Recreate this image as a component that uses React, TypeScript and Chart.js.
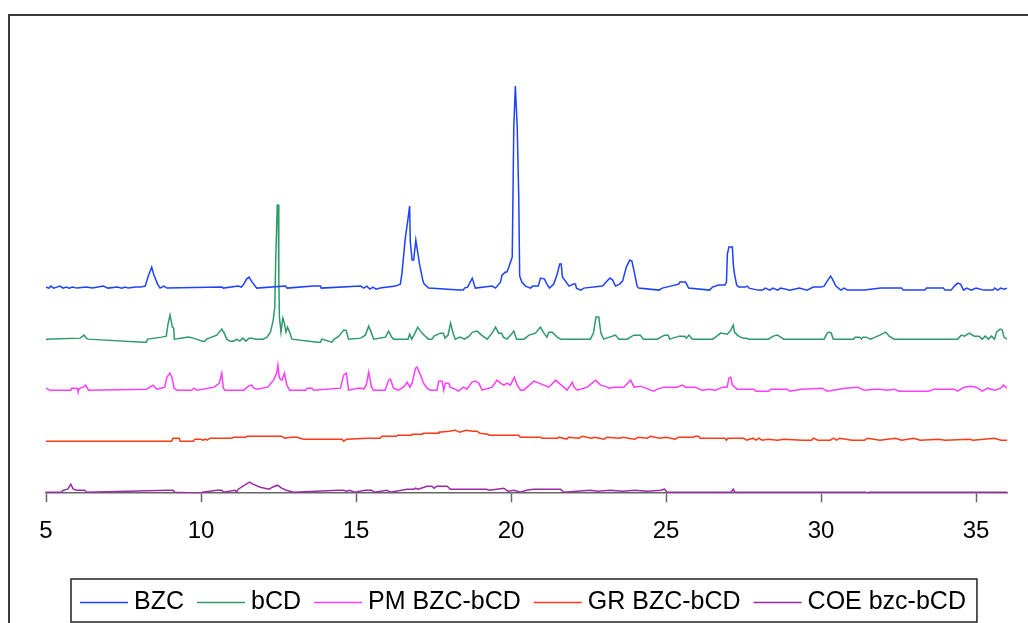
import React, { useEffect, useRef } from "react";
import { Chart, registerables } from "chart.js";
Chart.register(...registerables);

const seriesNames = ["BZC", "bCD", "PM BZC-bCD", "GR BZC-bCD", "COE bzc-bCD"];
const seriesColors = ["#1e40ff", "#2e9a68", "#ff3dff", "#ff3a14", "#9c2aa6"];
// vertical stacking offsets of the traces (intensity units)
const seriesOffsets = [205, 154, 103, 52, 1];
const xTicks = [5, 10, 15, 20, 25, 30, 35];

// [2theta, intensity above own baseline]
const bzc: [number, number][] = [
  [5.0,1],[5.1,0],[5.15,2],[5.25,0],[5.35,1],[5.45,2],[5.55,0],[5.65,1],[5.75,0],[5.85,1],[6.0,0],[6.3,1],[6.5,0],[6.85,2],[7.0,0],[7.3,1],[7.45,0],[7.55,1],[7.65,0],[7.9,1],[8.05,1],[8.2,2],[8.3,12],[8.41,21],[8.48,13],[8.6,4],[8.68,0],[8.8,2],[8.9,0],[10.68,1],[10.72,0],[11.2,2],[11.3,1],[11.36,3],[11.47,9],[11.55,11],[11.65,6],[11.8,0],[12.72,2],[12.78,0],[13.62,2],[13.85,2],[13.88,0],[15.15,2],[15.25,0],[15.35,2],[15.45,-1],[15.55,1],[15.65,-1],[15.78,0],[16.27,2],[16.43,4],[16.48,14],[16.59,50],[16.68,70],[16.73,82],[16.75,47],[16.81,28],[16.86,28],[16.93,48],[16.97,40],[17.05,24],[17.16,7],[17.2,4],[17.34,0],[18.34,-2],[18.46,-2],[18.5,0],[18.6,1],[18.75,10],[18.85,0],[19.39,2],[19.5,0],[19.66,6],[19.71,13],[19.82,16],[19.87,16],[19.93,21],[20.04,31],[20.09,161],[20.14,202],[20.2,161],[20.25,91],[20.28,12],[20.35,6],[20.47,2],[20.63,0],[20.7,2],[20.88,2],[20.95,10],[21.08,9],[21.16,4],[21.24,0],[21.38,4],[21.49,14],[21.57,24],[21.62,24],[21.66,11],[21.76,7],[21.87,2],[22.02,4],[22.08,4],[22.11,0],[22.25,-2],[22.35,0],[22.95,2],[23.19,10],[23.28,8],[23.37,2],[23.5,4],[23.6,7],[23.72,21],[23.83,28],[23.9,27],[23.97,17],[24.07,2],[24.12,0],[24.77,-2],[24.88,0],[25.41,4],[25.45,6],[25.63,6],[25.73,0],[26.4,-2],[26.5,1],[26.7,3],[26.9,3],[26.95,6],[26.98,34],[27.03,41],[27.14,41],[27.17,24],[27.21,14],[27.28,3],[27.35,1],[27.55,1],[27.62,2],[27.68,0],[27.96,-2],[28.12,-2],[28.2,0],[28.35,-2],[28.45,0],[28.6,-2],[28.7,0],[29.0,-2],[29.3,0],[29.55,-2],[29.75,1],[30.0,1],[30.1,2],[30.2,7],[30.31,12],[30.37,9],[30.48,2],[30.64,-2],[30.75,0],[30.85,-2],[31.25,-2],[31.4,-2],[31.93,0],[32.6,0],[32.65,-2],[33.2,-2],[33.35,-2],[33.4,0],[33.95,0],[34.0,-2],[34.2,-2],[34.3,2],[34.41,5],[34.5,4],[34.6,-2],[34.7,0],[34.85,-2],[35.0,0],[35.25,-2],[35.55,-2],[35.6,0],[35.7,-2],[35.8,0],[35.9,-1],[36.0,0]
];

const bcd: [number, number][] = [
  [5.0,0],[6.1,1],[6.23,4],[6.3,1],[6.36,0],[8.13,-3],[8.23,-3],[8.28,0],[8.73,2],[8.88,3],[8.93,14],[9.0,24],[9.08,12],[9.12,11],[9.14,0],[9.6,2],[9.75,1],[9.85,0],[10.05,-2],[10.13,-2],[10.18,0],[10.51,4],[10.67,10],[10.75,6],[10.83,0],[10.93,-2],[11.05,-2],[11.15,0],[11.25,-2],[11.35,1],[11.45,-2],[11.55,1],[11.65,1],[11.75,0],[12.0,0],[12.13,2],[12.24,7],[12.33,19],[12.38,32],[12.41,79],[12.46,134],[12.49,134],[12.51,60],[12.53,22],[12.58,7],[12.64,21],[12.69,16],[12.74,7],[12.79,12],[12.87,6],[12.93,0],[13.75,-3],[13.85,-3],[13.9,0],[14.22,-3],[14.3,0],[14.45,3],[14.6,9],[14.68,9],[14.76,0],[15.15,1],[15.3,4],[15.41,13],[15.5,6],[15.57,0],[15.95,2],[16.05,8],[16.15,2],[16.21,0],[16.68,0],[16.73,5],[16.8,0],[16.9,6],[16.99,12],[17.13,6],[17.23,3],[17.34,0],[17.45,0],[17.52,3],[17.72,6],[17.82,6],[17.87,1],[17.97,4],[18.05,16],[18.13,6],[18.2,0],[18.35,2],[18.5,0],[18.65,3],[18.76,7],[18.91,8],[19.05,4],[19.23,0],[19.39,6],[19.5,12],[19.6,6],[19.7,6],[19.75,2],[19.87,0],[19.99,4],[20.09,8],[20.18,0],[20.42,0],[20.58,4],[20.79,6],[20.95,12],[21.06,6],[21.16,2],[21.22,7],[21.33,7],[21.49,2],[21.6,0],[22.56,0],[22.66,6],[22.74,22],[22.83,22],[22.9,6],[22.99,0],[23.37,4],[23.48,0],[23.75,0],[23.8,1],[23.96,4],[24.17,4],[24.27,0],[24.72,0],[24.95,4],[25.07,4],[25.12,0],[25.43,3],[25.6,3],[25.66,1],[25.74,4],[25.85,0],[26.5,0],[26.6,2],[26.76,6],[26.98,5],[27.09,9],[27.17,14],[27.21,7],[27.3,4],[27.4,2],[27.5,1],[27.6,1],[27.66,0],[28.3,0],[28.46,3],[28.59,4],[28.7,2],[28.8,0],[30.1,0],[30.2,6],[30.26,7],[30.33,6],[30.4,0],[31.05,0],[31.1,2],[31.25,2],[31.3,0],[31.35,2],[31.45,2],[31.6,0],[31.75,2],[31.9,4],[32.09,7],[32.2,3],[32.36,0],[34.4,0],[34.53,4],[34.63,3],[34.78,6],[34.95,3],[35.1,3],[35.2,0],[35.3,3],[35.4,0],[35.5,3],[35.6,0],[35.66,7],[35.78,10],[35.85,9],[35.9,2],[36.0,0]
];

const pm: [number, number][] = [
  [5.0,2],[5.13,0],[5.8,0],[5.83,2],[6.0,2],[6.03,-1],[6.1,2],[6.2,3],[6.28,5],[6.37,0],[8.25,1],[8.35,3],[8.46,5],[8.57,1],[8.7,2],[8.83,3],[8.9,13],[9.0,17],[9.06,13],[9.13,2],[9.22,0],[9.7,0],[9.76,2],[9.87,0],[10.43,3],[10.59,7],[10.67,17],[10.72,2],[10.78,0],[11.38,0],[11.53,4],[11.64,5],[11.7,2],[11.8,1],[12.15,3],[12.34,10],[12.44,17],[12.48,25],[12.53,12],[12.61,10],[12.69,17],[12.77,5],[12.86,0],[13.37,0],[13.42,2],[13.58,2],[13.63,0],[14.5,2],[14.6,15],[14.69,17],[14.76,0],[15.05,2],[15.2,2],[15.25,1],[15.33,5],[15.41,18],[15.5,3],[15.57,0],[15.94,0],[16.05,10],[16.11,11],[16.21,2],[16.37,0],[16.53,3],[16.65,8],[16.74,3],[16.81,7],[16.92,22],[16.97,23],[17.08,15],[17.18,7],[17.29,2],[17.4,0],[17.61,0],[17.67,9],[17.78,9],[17.83,0],[17.88,7],[17.99,7],[18.04,3],[18.2,1],[18.31,-1],[18.47,3],[18.58,1],[18.74,8],[18.85,9],[18.96,7],[19.07,0],[19.39,3],[19.55,10],[19.66,7],[19.77,5],[19.87,7],[19.98,5],[20.11,13],[20.2,5],[20.31,0],[20.41,0],[20.52,3],[20.74,9],[20.9,7],[21.06,5],[21.22,3],[21.44,10],[21.55,7],[21.7,3],[21.81,0],[21.98,8],[22.03,3],[22.14,0],[22.46,3],[22.73,10],[22.89,5],[23.11,3],[23.16,2],[23.32,3],[23.48,3],[23.64,3],[23.86,10],[23.97,3],[24.18,4],[24.35,2],[24.5,0],[24.61,-1],[24.72,1],[24.93,3],[25.36,3],[25.53,5],[25.63,3],[25.79,3],[25.95,3],[26.16,0],[26.38,1],[26.6,0],[26.82,3],[26.97,3],[27.03,12],[27.09,13],[27.14,5],[27.3,1],[27.84,1],[27.9,-1],[28.32,-1],[28.37,1],[28.9,1],[29.0,-1],[29.37,1],[30.04,2],[30.2,-1],[30.78,2],[31.18,3],[31.4,0],[31.72,1],[31.88,1],[32.15,0],[32.36,1],[32.52,-1],[33.48,-1],[33.65,1],[34.3,1],[34.4,-1],[34.62,3],[34.84,4],[35.0,3],[35.21,-1],[35.37,2],[35.6,0],[35.8,2],[35.89,5],[36.0,2]
];

const gr: [number, number][] = [
  [5.0,0],[9.05,0],[9.1,3],[9.3,3],[9.33,0],[9.75,0],[9.8,2],[10.0,2],[10.05,1],[10.15,2],[10.2,1],[10.3,3],[11.0,3],[11.05,4],[11.45,4],[11.48,5],[12.6,5],[12.7,3],[12.9,4],[13.1,4],[13.3,2],[14.55,2],[14.6,0],[14.7,2],[15.35,3],[15.78,3],[15.84,5],[16.3,5],[16.35,6],[16.8,6],[16.81,7],[17.15,7],[17.17,8],[17.65,8],[17.67,9],[18.0,10],[18.2,11],[18.35,9],[18.55,11],[18.75,10],[18.9,10],[19.0,8],[19.25,7],[19.3,6],[20.25,6],[20.3,4],[20.95,4],[21.0,3],[21.5,3],[21.55,4],[21.8,2],[21.85,4],[22.2,3],[22.3,5],[22.6,3],[22.7,4],[23.0,2],[23.1,4],[23.5,3],[23.6,4],[24.0,2],[24.1,4],[24.4,3],[24.5,5],[24.8,3],[25.0,4],[25.3,2],[25.4,4],[25.9,4],[25.95,5],[26.05,5],[26.1,3],[26.9,3],[26.95,1],[27.0,3],[27.5,3],[27.6,1],[27.8,3],[27.9,1],[28.0,3],[28.1,1],[28.3,2],[28.6,1],[28.8,2],[29.4,1],[29.7,1],[29.75,3],[29.9,1],[30.3,1],[30.4,3],[30.5,1],[30.6,3],[31.0,1],[31.4,1],[31.5,3],[31.9,1],[32.4,3],[32.6,1],[33.0,3],[33.2,1],[33.8,2],[34.0,1],[34.8,2],[34.9,1],[35.6,3],[35.8,1],[36.0,1]
];

const coe: [number, number][] = [
  [5.0,0],[5.5,0],[5.56,2],[5.7,3],[5.8,8],[5.88,3],[6.0,2],[6.25,2],[6.31,0],[8.94,2],[9.1,2],[9.15,0],[9.97,-1],[10.05,0],[10.51,2],[10.67,2],[10.72,0],[11.1,2],[11.15,0],[11.2,3],[11.56,10],[11.68,8],[11.91,5],[12.2,3],[12.3,5],[12.47,7],[12.6,4],[12.75,2],[12.99,0],[14.43,2],[14.59,2],[14.7,1],[14.8,2],[14.95,0],[15.3,2],[15.5,2],[15.6,0],[16.0,2],[16.1,0],[16.65,3],[16.86,3],[16.92,4],[17.0,3],[17.1,4],[17.29,6],[17.45,6],[17.52,4],[17.61,6],[17.94,6],[18.05,3],[19.2,3],[19.3,2],[19.77,4],[19.9,1],[20.1,2],[20.3,0],[20.5,2],[20.73,3],[21.6,3],[21.7,0],[22.56,2],[22.8,1],[23.2,2],[23.6,1],[24.0,2],[24.4,1],[24.83,2],[24.95,3],[25.04,0],[27.1,0],[27.17,3],[27.22,0],[31.45,0],[31.5,-1],[31.55,0],[36.0,0]
];

const allSeries = [bzc, bcd, pm, gr, coe];

const FONT = '"Liberation Sans", Arial, Helvetica, sans-serif';

const frameLegendPlugin = {
  id: "frameLegend",
  afterDraw(chart: any) {
    const ctx = chart.ctx as CanvasRenderingContext2D;
    ctx.save();
    // outer frame (extends beyond the visible area)
    ctx.strokeStyle = "#3a3a3a";
    ctx.lineWidth = 2;
    ctx.strokeRect(9, 15, 1300, 900);
    // legend
    ctx.font = "25px " + FONT;
    const startX = 80;
    let x = startX;
    const lineY = 602.5;
    chart.data.datasets.forEach((ds: any) => {
      ctx.strokeStyle = ds.borderColor;
      ctx.lineWidth = 1.5;
      ctx.beginPath();
      ctx.moveTo(x, lineY);
      ctx.lineTo(x + 48, lineY);
      ctx.stroke();
      ctx.fillStyle = "#000";
      ctx.textBaseline = "alphabetic";
      ctx.textAlign = "left";
      ctx.fillText(ds.label, x + 54, 608.5);
      x += 54 + ctx.measureText(ds.label).width + 13;
    });
    ctx.strokeStyle = "#222";
    ctx.lineWidth = 1.5;
    ctx.strokeRect(startX - 9, 579, x - 13 + 11 - (startX - 9), 43);
    ctx.restore();
  },
};

export default function App() {
  const ref = useRef<HTMLCanvasElement | null>(null);
  useEffect(() => {
    if (!ref.current) return;
    const datasets = allSeries.map((pts, i) => ({
      label: seriesNames[i],
      data: pts.map(([x, y]) => ({ x, y: y + seriesOffsets[i] })),
      borderColor: seriesColors[i],
      backgroundColor: seriesColors[i],
      borderWidth: 1.5,
      pointRadius: 0,
      tension: 0,
      fill: false,
    }));
    const chart = new Chart(ref.current, {
      type: "line",
      data: { datasets },
      options: {
        animation: false,
        responsive: false,
        devicePixelRatio: 1,
        layout: { padding: { top: 43, left: 46, right: 21, bottom: 62 } },
        plugins: { legend: { display: false }, tooltip: { enabled: false } },
        scales: {
          x: {
            type: "linear",
            min: 5,
            max: 36,
            afterBuildTicks: (s: any) => {
              s.ticks = xTicks.map((v) => ({ value: v }));
            },
            ticks: {
              font: { size: 24, family: FONT },
              color: "#000",
              padding: 15,
              maxRotation: 0,
              autoSkip: false,
            },
            grid: {
              drawOnChartArea: false,
              drawTicks: true,
              tickLength: 9,
              tickColor: "#666",
              tickWidth: 1.5,
            },
            border: { color: "#666", width: 1.5 },
          },
          y: { display: false, min: 0, max: 450 },
        },
      },
      plugins: [frameLegendPlugin],
    } as any);
    return () => chart.destroy();
  }, []);
  return (
    <div style={{ position: "fixed", left: 0, top: 0, width: 1028, height: 623, background: "#fff" }}>
      <canvas ref={ref} width={1028} height={623} style={{ display: "block" }} />
    </div>
  );
}
